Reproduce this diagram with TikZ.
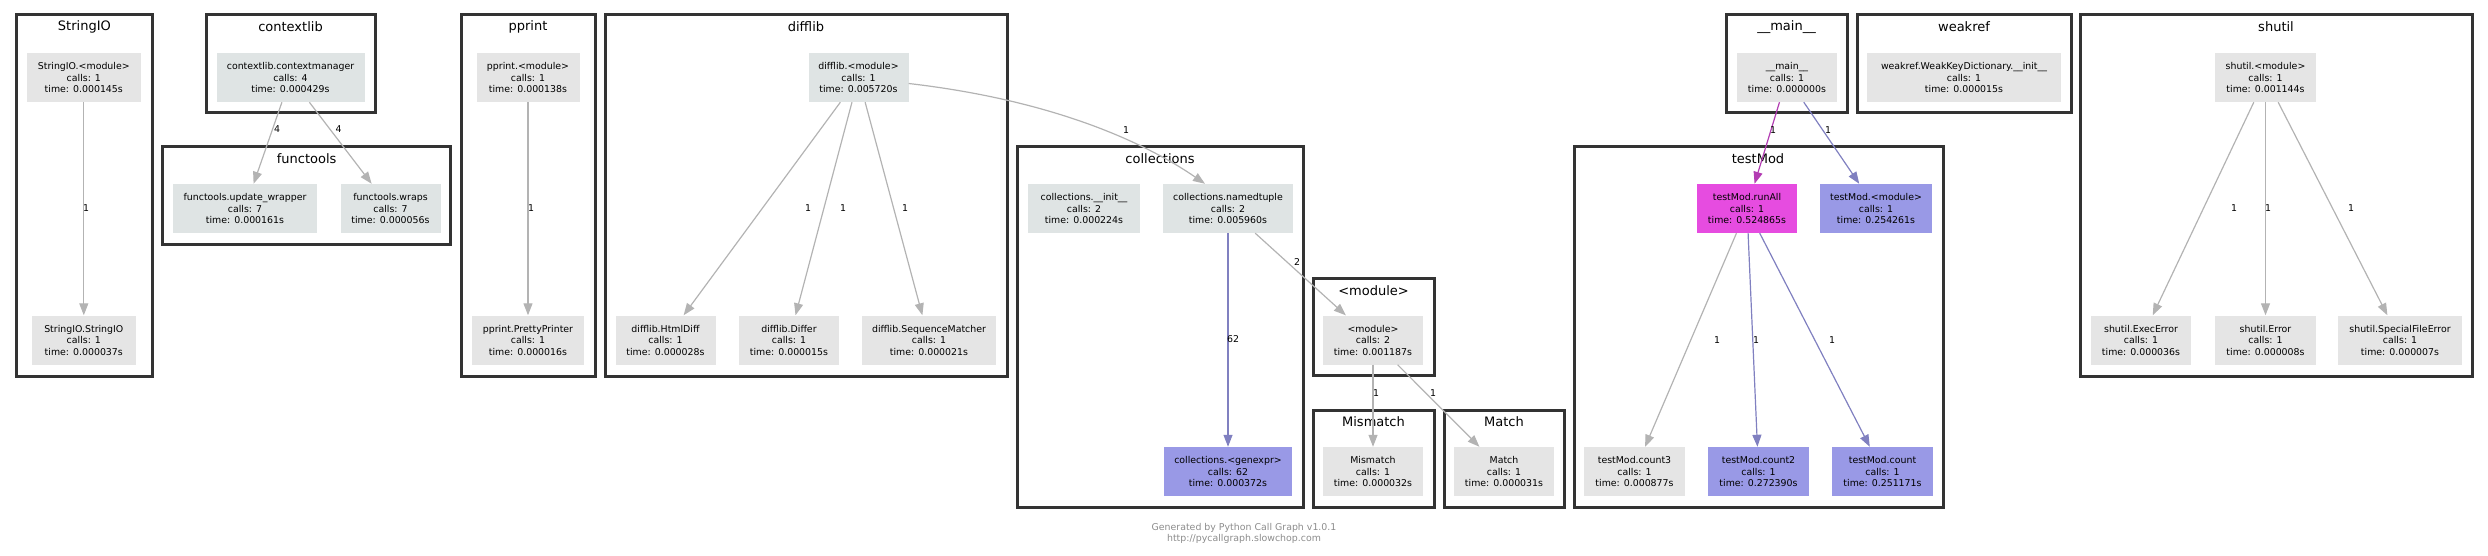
\documentclass[tikz,border=0pt]{standalone}
\usepackage{fontspec}
\setmainfont{DejaVu Sans}
\usetikzlibrary{arrows.meta}
\definecolor{fgray}{HTML}{E5E5E5}
\definecolor{fblue}{HTML}{DFE4E4}
\definecolor{fpurple}{HTML}{9999E6}
\definecolor{fmagenta}{HTML}{E64CE0}
\definecolor{egray}{HTML}{B3B3B3}
\definecolor{epurple}{HTML}{8080C0}
\definecolor{emagenta}{HTML}{B33DB3}
\definecolor{framegray}{HTML}{333333}
\definecolor{footgray}{HTML}{8C8C8C}
\begin{document}
\begin{tikzpicture}[x=1pt,y=-1pt,
  fn/.style={fill=fgray,minimum width=100pt,minimum height=49pt,inner sep=0pt,align=center,font=\fontsize{9.4}{11.5}\selectfont},
  fnb/.style={fn,fill=fblue},
  fnp/.style={fn,fill=fpurple},
  fnm/.style={fn,fill=fmagenta},
  grp/.style={draw=framegray,line width=3pt},
  grpname/.style={font=\fontsize{13}{15}\selectfont,inner sep=0pt},
  call/.style={draw=egray,line width=1.2pt,-{Triangle[length=12pt,width=9pt]}},
  callp/.style={call,draw=epurple},
  callm/.style={call,draw=emagenta},
  lbl/.style={font=\fontsize{9.4}{11}\selectfont,inner sep=0pt}]
\useasboundingbox (0,0) rectangle (2488,556);
\draw[grp] (16,15) rectangle (152.7,376);
\draw[grp] (206,15) rectangle (375,113);
\draw[grp] (162.6,147) rectangle (450.8,244);
\draw[grp] (461,15) rectangle (595,376);
\draw[grp] (605,15) rectangle (1007,376);
\draw[grp] (1017,147) rectangle (1303,507);
\draw[grp] (1313,278) rectangle (1434,375);
\draw[grp] (1313,410) rectangle (1434,507);
\draw[grp] (1444,410) rectangle (1564,507);
\draw[grp] (1574,147) rectangle (1943,507);
\draw[grp] (1726,15) rectangle (1847,113);
\draw[grp] (1857,15) rectangle (2071,113);
\draw[grp] (2080,15) rectangle (2472,376);
\node[grpname] (gSio) at (84.4,27) {StringIO};
\node[grpname] (gCtx) at (290.5,27) {contextlib};
\node[grpname] (gFt) at (306.7,159) {functools};
\node[grpname] (gPp) at (528,27) {pprint};
\node[grpname] (gDl) at (806,27) {difflib};
\node[grpname] (gCo) at (1160,159) {collections};
\node[grpname] (gMod) at (1373.5,291) {<module>};
\node[grpname] (gMis) at (1373.5,422) {Mismatch};
\node[grpname] (gMa) at (1504,422) {Match};
\node[grpname] (gTm) at (1758,159) {testMod};
\node[grpname] (gMn) at (1786.5,27) {\_\_main\_\_};
\node[grpname] (gWk) at (1964,27) {weakref};
\node[grpname] (gSh) at (2276,27) {shutil};
\node[fn,minimum width=114pt] (sioMod) at (83.8,77.5) {StringIO.<module>\\calls: 1\\time: 0.000145s};
\node[fn,minimum width=104pt] (sioStr) at (83.8,340) {StringIO.StringIO\\calls: 1\\time: 0.000037s};
\node[fnb,minimum width=148pt] (ctxMgr) at (290.5,77.5) {contextlib.contextmanager\\calls: 4\\time: 0.000429s};
\node[fnb,minimum width=144pt] (ftUpd) at (245,208.5) {functools.update\_wrapper\\calls: 7\\time: 0.000161s};
\node[fnb] (ftWraps) at (390.5,208.5) {functools.wraps\\calls: 7\\time: 0.000056s};
\node[fn,minimum width=103pt] (ppMod) at (528,77.5) {pprint.<module>\\calls: 1\\time: 0.000138s};
\node[fn,minimum width=112pt] (ppPretty) at (528,340) {pprint.PrettyPrinter\\calls: 1\\time: 0.000016s};
\node[fnb] (dlMod) at (858.5,77.5) {difflib.<module>\\calls: 1\\time: 0.005720s};
\node[fn] (dlHtml) at (665.5,340) {difflib.HtmlDiff\\calls: 1\\time: 0.000028s};
\node[fn] (dlDiffer) at (789,340) {difflib.Differ\\calls: 1\\time: 0.000015s};
\node[fn,minimum width=134pt] (dlSeq) at (929,340) {difflib.SequenceMatcher\\calls: 1\\time: 0.000021s};
\node[fnb,minimum width=112pt] (coInit) at (1084,208.5) {collections.\_\_init\_\_\\calls: 2\\time: 0.000224s};
\node[fnb,minimum width=130pt] (coNt) at (1228,208.5) {collections.namedtuple\\calls: 2\\time: 0.005960s};
\node[fnp,minimum width=128pt] (coGen) at (1228,471.5) {collections.<genexpr>\\calls: 62\\time: 0.000372s};
\node[fn] (modMod) at (1373,340) {<module>\\calls: 2\\time: 0.001187s};
\node[fn] (misMis) at (1373,471.5) {Mismatch\\calls: 1\\time: 0.000032s};
\node[fn] (maMatch) at (1504,471.5) {Match\\calls: 1\\time: 0.000031s};
\node[fn] (mnMain) at (1787,77.5) {\_\_main\_\_\\calls: 1\\time: 0.000000s};
\node[fn,minimum width=194pt] (wkDict) at (1964,77.5) {weakref.WeakKeyDictionary.\_\_init\_\_\\calls: 1\\time: 0.000015s};
\node[fnm] (tmRun) at (1747,208.5) {testMod.runAll\\calls: 1\\time: 0.524865s};
\node[fnp,minimum width=112pt] (tmMod) at (1876,208.5) {testMod.<module>\\calls: 1\\time: 0.254261s};
\node[fn,minimum width=101pt] (tmCount3) at (1634.5,471.5) {testMod.count3\\calls: 1\\time: 0.000877s};
\node[fnp,minimum width=101pt] (tmCount2) at (1758.5,471.5) {testMod.count2\\calls: 1\\time: 0.272390s};
\node[fnp,minimum width=101pt] (tmCount) at (1882.5,471.5) {testMod.count\\calls: 1\\time: 0.251171s};
\node[fn,minimum width=101pt] (shMod) at (2265.5,77.5) {shutil.<module>\\calls: 1\\time: 0.001144s};
\node[fn] (shExec) at (2141,340) {shutil.ExecError\\calls: 1\\time: 0.000036s};
\node[fn,minimum width=101pt] (shErr) at (2265.5,340) {shutil.Error\\calls: 1\\time: 0.000008s};
\node[fn,minimum width=124pt] (shSpec) at (2400,340) {shutil.SpecialFileError\\calls: 1\\time: 0.000007s};
\draw[call] (sioMod) -- (sioStr);
\draw[call] (ctxMgr) -- (ftUpd);
\draw[call] (ctxMgr) -- (ftWraps);
\draw[call] (ppMod) -- (ppPretty);
\draw[call] (dlMod) -- (dlHtml);
\draw[call] (dlMod) -- (dlDiffer);
\draw[call] (dlMod) -- (dlSeq);
\draw[call] ([yshift=-6pt]dlMod.east) .. controls (1060,101) and (1150,146) .. ([xshift=-23pt]coNt.north);
\draw[callp] (coNt) -- (coGen);
\draw[call] (coNt) -- (modMod);
\draw[call] (modMod) -- (misMis);
\draw[call] (modMod) -- (maMatch);
\draw[callm] (mnMain) -- (tmRun);
\draw[callp] (mnMain) -- (tmMod);
\draw[call] (tmRun) -- (tmCount3);
\draw[callp] (tmRun) -- (tmCount2);
\draw[callp] (tmRun) -- (tmCount);
\draw[call] (shMod) -- (shExec);
\draw[call] (shMod) -- (shErr);
\draw[call] (shMod) -- (shSpec);
\node[lbl] (lSio) at (86,208) {1};
\node[lbl] (lCtx1) at (277,129) {4};
\node[lbl] (lCtx2) at (338.7,129) {4};
\node[lbl] (lPp) at (531,208) {1};
\node[lbl] (lDl1) at (808,208) {1};
\node[lbl] (lDl2) at (843,208) {1};
\node[lbl] (lDl3) at (905,208) {1};
\node[lbl] (lDlCo) at (1126,130) {1};
\node[lbl] (lGen) at (1233,339) {62};
\node[lbl] (lMod) at (1297,262) {2};
\node[lbl] (lMis) at (1376,393) {1};
\node[lbl] (lMa) at (1433,393) {1};
\node[lbl] (lRun) at (1773,130) {1};
\node[lbl] (lTmMod) at (1828,130) {1};
\node[lbl] (lTm3) at (1717,340) {1};
\node[lbl] (lTm2) at (1756,340) {1};
\node[lbl] (lTm1) at (1832,340) {1};
\node[lbl] (lSh1) at (2234,208) {1};
\node[lbl] (lSh2) at (2268,208) {1};
\node[lbl] (lSh3) at (2351,208) {1};
\node[lbl,text=footgray,align=center] (foot) at (1244,533.5) {Generated by Python Call Graph v1.0.1\\http://pycallgraph.slowchop.com};
\end{tikzpicture}
\end{document}
